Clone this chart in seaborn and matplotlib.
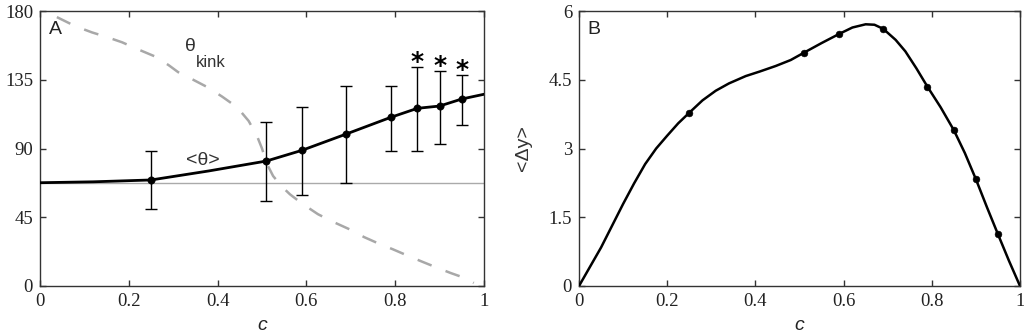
import numpy as np
import pandas as pd
import matplotlib
matplotlib.use("Agg")
import matplotlib.pyplot as plt
import seaborn as sns

# ---- data -------------------------------------------------------------
# mean angle <theta> vs c, with error bars
c_pts = [0.25, 0.51, 0.59, 0.69, 0.79, 0.85, 0.90, 0.95]
theta_mean = [69.4, 81.8, 88.8, 99.5, 110.4, 116.3, 117.8, 122.4]
theta_lo = [50.2, 55.6, 59.3, 67.2, 88.4, 88.4, 93.0, 105.2]
theta_hi = [88.4, 107.4, 117.4, 131.1, 131.1, 143.4, 141.0, 137.9]
starred = [0.85, 0.90, 0.95]

# <theta> curve including the end points
theta_curve_c = [0.0, 0.12, 0.25, 0.38, 0.51, 0.59, 0.69, 0.79, 0.85, 0.90, 0.95, 1.0]
theta_curve_v = [67.6, 68.2, 69.4, 75.3, 81.8, 88.8, 99.5, 110.4, 116.3, 117.8, 122.4, 125.5]
theta_ref = 67.6

# kink angle curve
kink_c = [0.038, 0.08, 0.117, 0.15, 0.185, 0.22, 0.261, 0.29, 0.311, 0.345,
          0.378, 0.41, 0.444, 0.47, 0.489, 0.50, 0.511, 0.525, 0.545, 0.563,
          0.59, 0.626, 0.66, 0.698, 0.73, 0.761, 0.795, 0.827, 0.86, 0.894,
          0.925, 0.959, 0.977]
kink_v = [176, 170, 166, 163, 159.5, 155, 150, 144.5, 140, 135,
          130, 124, 117, 108, 98, 90, 80, 72, 65, 60,
          54, 47, 42, 37, 32, 28, 24, 20, 16, 12,
          8.5, 5, 2]

# mean displacement <Delta y> vs c
dy_pts = [3.78, 5.09, 5.50, 5.61, 4.35, 3.40, 2.33, 1.13]
dy_curve_c = [0.0, 0.05, 0.10, 0.125, 0.15, 0.175, 0.20, 0.225, 0.25, 0.28,
              0.31, 0.34, 0.378, 0.41, 0.446, 0.48, 0.51, 0.55, 0.59, 0.62,
              0.65, 0.67, 0.69, 0.718, 0.74, 0.765, 0.79, 0.82, 0.85, 0.875,
              0.90, 0.925, 0.95, 0.975, 1.0]
dy_curve_v = [0.0, 0.84, 1.79, 2.24, 2.66, 3.00, 3.28, 3.55, 3.78, 4.05,
              4.26, 4.42, 4.58, 4.68, 4.80, 4.93, 5.09, 5.30, 5.50, 5.64,
              5.71, 5.70, 5.61, 5.37, 5.12, 4.75, 4.35, 3.90, 3.40, 2.90,
              2.33, 1.72, 1.13, 0.55, 0.0]

xticks = [0, 0.2, 0.4, 0.6, 0.8, 1]
xticklabels = ["0", "0.2", "0.4", "0.6", "0.8", "1"]
yticksA = [0, 45, 90, 135, 180]
yticklabelsA = ["0", "45", "90", "135", "180"]
yticksB = [0, 1.5, 3, 4.5, 6]
yticklabelsB = ["0", "1.5", "3", "4.5", "6"]

# ---- style ------------------------------------------------------------
sns.set_style("ticks")
# serif numbers on the axes, sans for the annotations
plt.rcParams["font.family"] = ["Liberation Serif", "DejaVu Serif"]
plt.rcParams["xtick.labelsize"] = 13.5
plt.rcParams["ytick.labelsize"] = 13.5
SANS = ["Liberation Sans", "DejaVu Sans"]

fig = plt.figure(figsize=(10.24, 3.33), dpi=100)
axA = fig.add_axes([40 / 1024, 47 / 333, 444 / 1024, 275 / 333])
axB = fig.add_axes([579 / 1024, 47 / 333, 441 / 1024, 275 / 333])


def style_axes(ax, yticks, yticklabels):
    for s in ax.spines.values():
        s.set_visible(True)
        s.set_color("#333333")
        s.set_linewidth(1.0)
    ax.tick_params(direction="in", length=4, width=1, color="#333333",
                   labelcolor="#222222", top=True, right=True, pad=5)
    ax.set_xlim(0, 1)
    ax.set_xticks(xticks)
    ax.set_xticklabels(xticklabels)
    ax.set_yticks(yticks)
    ax.set_yticklabels(yticklabels)
    ax.set_xlabel("c", fontsize=14, style="italic", labelpad=5,
                  color="#222222", family=SANS)


# ---- panel A ----------------------------------------------------------
axA.axhline(theta_ref, color="#aaaaaa", lw=1.0, zorder=1)
sns.lineplot(x=kink_c, y=kink_v, ax=axA, color="#a8a8a8", lw=1.8, zorder=2)
axA.lines[-1].set_dashes([6, 6])
sns.lineplot(x=theta_curve_c, y=theta_curve_v, ax=axA, color="black", lw=2.0,
             zorder=3)
yerr = [np.array(theta_mean) - np.array(theta_lo),
        np.array(theta_hi) - np.array(theta_mean)]
axA.errorbar(c_pts, theta_mean, yerr=yerr, fmt="none", ecolor="black",
             elinewidth=1.0, capsize=4, capthick=1.0, zorder=4)
sns.scatterplot(x=c_pts, y=theta_mean, ax=axA, color="black", s=28,
                edgecolor="black", zorder=5)
for cx, hi in zip(c_pts, theta_hi):
    if cx in starred:
        axA.annotate("*", (cx, hi), xytext=(0, -5), textcoords="offset points",
                     ha="center", va="bottom", fontsize=18, color="black",
                     family=["DejaVu Sans"], fontweight="bold")

axA.set_ylim(0, 180)
axA.text(0.02, 168, "A", fontsize=14, color="#222222", ha="left",
         va="center", family=SANS)
axA.text(0.338, 157, "θ", fontsize=14, color="#333333", ha="center",
         va="center", family=SANS)
axA.text(0.35, 146.5, "kink", fontsize=12, color="#333333", ha="left",
         va="center", family=SANS)
axA.text(0.367, 82, "<θ>", fontsize=14, color="#333333", ha="center",
         va="center", family=SANS)
style_axes(axA, yticksA, yticklabelsA)

# ---- panel B ----------------------------------------------------------
sns.lineplot(x=dy_curve_c, y=dy_curve_v, ax=axB, color="black", lw=1.8,
             zorder=3)
sns.scatterplot(x=c_pts, y=dy_pts, ax=axB, color="black", s=24,
                edgecolor="black", zorder=4)
axB.set_ylim(0, 6)
axB.set_ylabel("<Δy>", fontsize=14, color="#333333", labelpad=12,
               family=SANS)
axB.text(0.02, 5.6, "B", fontsize=14, color="#222222", ha="left",
         va="center", family=SANS)
style_axes(axB, yticksB, yticklabelsB)

fig.savefig("out.png", dpi=100)
